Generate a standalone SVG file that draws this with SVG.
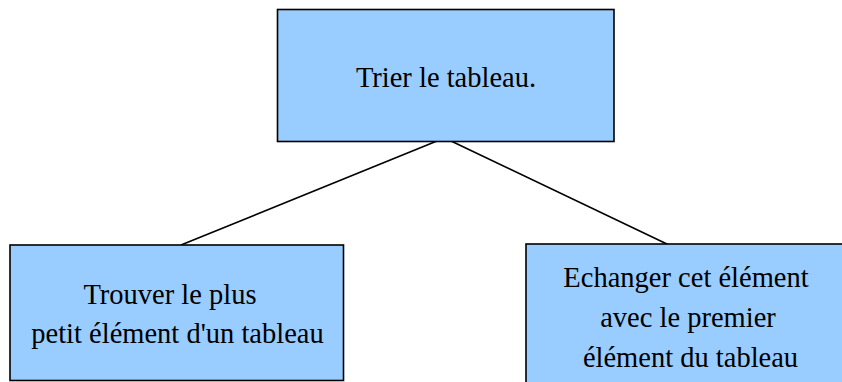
<svg xmlns="http://www.w3.org/2000/svg" width="842" height="382" viewBox="0 0 842 382">
<style>
.box{fill:#99ccff;stroke:#000;stroke-width:1.6}
.t{font-family:"Liberation Serif","Times New Roman",serif;font-size:28.5px;fill:#000;text-anchor:middle}
.c{stroke:#000;stroke-width:1.6;fill:none}
</style>
<rect width="842" height="382" fill="#fff"/>
<g id="connectors">
<line class="c" x1="437" y1="141" x2="181" y2="245"/>
<line class="c" x1="451" y1="141" x2="669" y2="245"/>
</g>
<g id="node-trier">
<rect class="box" x="277.5" y="9.5" width="336.5" height="132"/>
<text class="t" x="446" y="87">Trier le tableau.</text>
</g>
<g id="node-trouver">
<rect class="box" x="10" y="245" width="333.5" height="135.5"/>
<text class="t" x="170" y="304">Trouver le plus</text>
<text class="t" x="177.5" y="343">petit élément d'un tableau</text>
</g>
<g id="node-echanger">
<rect class="box" x="526" y="244" width="330" height="150"/>
<text class="t" x="686" y="287">Echanger cet élément</text>
<text class="t" x="688" y="327">avec le premier</text>
<text class="t" x="690.5" y="367">élément du tableau</text>
</g>
</svg>
